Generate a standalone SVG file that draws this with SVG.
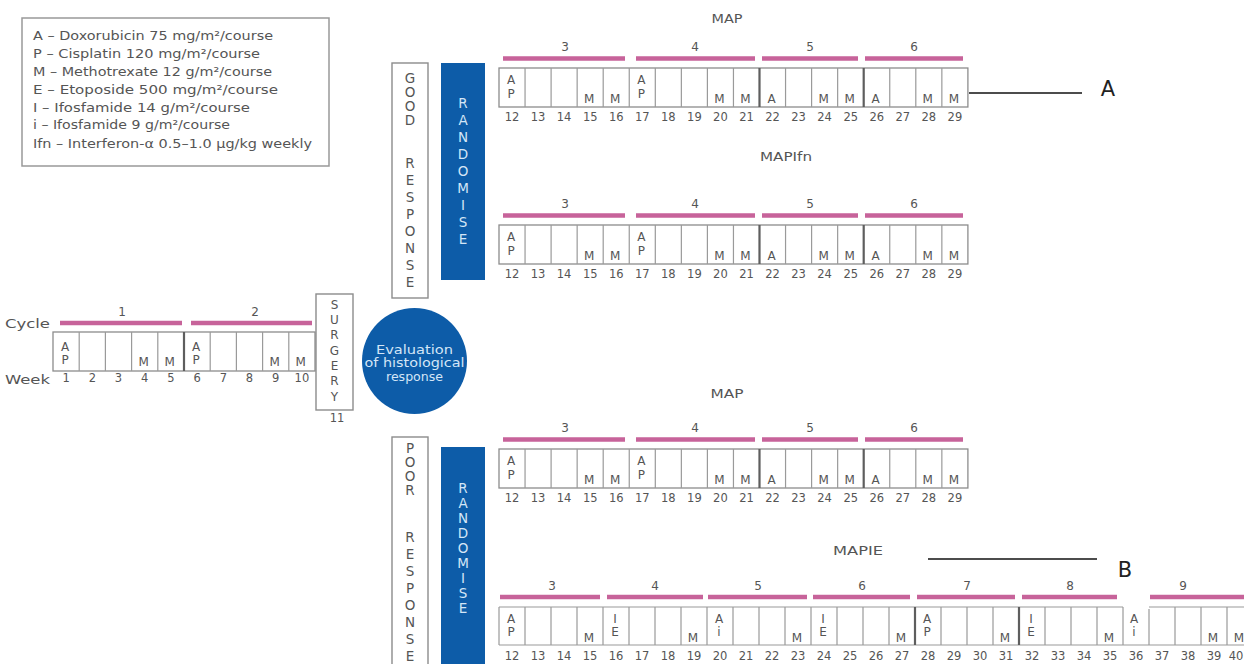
<svg xmlns="http://www.w3.org/2000/svg" xmlns:xlink="http://www.w3.org/1999/xlink" width="1244" height="664" viewBox="0 0 1244 664">
<style>
.t{font-family:"DejaVu Sans","Liberation Sans",sans-serif;fill:#555}
.wk{font-size:11.5px;text-anchor:middle}
.lt{font-size:12px;text-anchor:middle}
.vl{font-size:13.5px;text-anchor:middle;dominant-baseline:central}
.vs{font-size:12px;text-anchor:middle;dominant-baseline:central}
.cell{fill:#fff;stroke:#8c8c8c;stroke-width:1.3}
.div{fill:none;stroke:#9a9a9a;stroke-width:1.2}
.thick{fill:none;stroke:#5e5e5e;stroke-width:2.2}
.bar{stroke:#c7639a;stroke-width:4.5}
.box{fill:#fff;stroke:#8c8c8c;stroke-width:1.4}
.blue{fill:#0d5ca8}
.wt{fill:#d4e6f7}
.lead{stroke:#111;stroke-width:1.4}
.big{font-family:"DejaVu Sans","Liberation Sans",sans-serif;font-size:21px;fill:#222;text-anchor:middle}
</style>
<defs>
<g id="maprow">
<rect class="cell" x="499" y="0" width="468.9" height="39"/>
<path class="div" d="M525.05 0V39M551.1 0V39M577.15 0V39M603.2 0V39M629.25 0V39M655.3 0V39M681.35 0V39M707.4 0V39M733.45 0V39M785.55 0V39M811.6 0V39M837.65 0V39M889.75 0V39M915.8 0V39M941.85 0V39"/>
<path class="thick" d="M759.5 0V39M863.7 0V39"/>
<path class="bar" d="M503 -9.5H625M636 -9.5H755M762 -9.5H858M865 -9.5H963"/>
<g class="t lt">
<text x="565" y="-17">3</text><text x="695" y="-17">4</text><text x="810" y="-17">5</text><text x="914" y="-17">6</text>
<text x="511" y="16">A</text><text x="511" y="29.5">P</text>
<text x="589.2" y="34.5">M</text><text x="615.2" y="34.5">M</text>
<text x="641.3" y="16">A</text><text x="641.3" y="29.5">P</text>
<text x="719.4" y="34.5">M</text><text x="745.5" y="34.5">M</text>
<text x="771.5" y="34.5">A</text>
<text x="823.6" y="34.5">M</text><text x="849.7" y="34.5">M</text>
<text x="875.7" y="34.5">A</text>
<text x="927.8" y="34.5">M</text><text x="953.9" y="34.5">M</text>
</g>
<g class="t wk">
<text x="512" y="53">12</text><text x="538.1" y="53">13</text><text x="564.1" y="53">14</text><text x="590.2" y="53">15</text><text x="616.2" y="53">16</text><text x="642.3" y="53">17</text><text x="668.3" y="53">18</text><text x="694.4" y="53">19</text><text x="720.4" y="53">20</text><text x="746.5" y="53">21</text><text x="772.5" y="53">22</text><text x="798.6" y="53">23</text><text x="824.6" y="53">24</text><text x="850.7" y="53">25</text><text x="876.7" y="53">26</text><text x="902.8" y="53">27</text><text x="928.8" y="53">28</text><text x="954.9" y="53">29</text>
</g>
</g>
</defs>

<g id="legend">
<rect x="22" y="18" width="307" height="148" fill="#fff" stroke="#999" stroke-width="1.5"/>
<g class="t" font-size="12.5px" fill="#505050">
<text x="33" y="40" textLength="240" lengthAdjust="spacingAndGlyphs">A – Doxorubicin 75 mg/m²/course</text>
<text x="33" y="58" textLength="227" lengthAdjust="spacingAndGlyphs">P – Cisplatin 120 mg/m²/course</text>
<text x="33" y="76" textLength="239" lengthAdjust="spacingAndGlyphs">M – Methotrexate 12 g/m²/course</text>
<text x="33" y="94" textLength="245" lengthAdjust="spacingAndGlyphs">E – Etoposide 500 mg/m²/course</text>
<text x="33" y="112" textLength="217" lengthAdjust="spacingAndGlyphs">I – Ifosfamide 14 g/m²/course</text>
<text x="33" y="129" textLength="197" lengthAdjust="spacingAndGlyphs">i – Ifosfamide 9 g/m²/course</text>
<text x="33" y="148" textLength="279" lengthAdjust="spacingAndGlyphs">Ifn – Interferon-α 0.5–1.0 μg/kg weekly</text>
</g>
</g>

<g id="cycles-1-2">
<text class="t" x="5" y="328" font-size="13px" textLength="45" lengthAdjust="spacingAndGlyphs">Cycle</text>
<text class="t" x="5" y="384" font-size="12px" textLength="45" lengthAdjust="spacingAndGlyphs">Week</text>
<path class="bar" d="M60 323H182M191 323H312"/>
<g class="t lt"><text x="122" y="316">1</text><text x="255" y="316">2</text></g>
<rect class="cell" x="53" y="332" width="262" height="39"/>
<path class="div" d="M79.2 332V371M105.4 332V371M131.6 332V371M157.8 332V371M210.2 332V371M236.4 332V371M262.6 332V371M288.8 332V371"/>
<path class="thick" d="M184 332V371"/>
<g class="t lt">
<text x="65" y="351">A</text><text x="65" y="364">P</text>
<text x="143.6" y="366">M</text><text x="169.8" y="366">M</text>
<text x="196" y="351">A</text><text x="196" y="364">P</text>
<text x="274.6" y="366">M</text><text x="300.8" y="366">M</text>
</g>
<g class="t wk">
<text x="66.1" y="382">1</text><text x="92.3" y="382">2</text><text x="118.5" y="382">3</text><text x="144.7" y="382">4</text><text x="170.9" y="382">5</text><text x="197.1" y="382">6</text><text x="223.3" y="382">7</text><text x="249.5" y="382">8</text><text x="275.7" y="382">9</text><text x="301.9" y="382">10</text>
</g>
</g>

<g id="surgery">
<rect class="box" x="316" y="294" width="37" height="116"/>
<g class="t vs">
<text x="334.5" y="305">S</text><text x="334.5" y="320">U</text><text x="334.5" y="335">R</text><text x="334.5" y="351">G</text><text x="334.5" y="366">E</text><text x="334.5" y="381">R</text><text x="334.5" y="397">Y</text>
</g>
<text class="t wk" x="337" y="422">11</text>
</g>

<g id="evaluation">
<ellipse cx="414.5" cy="361" rx="52.5" ry="53" class="blue"/>
<g class="wt" font-family="DejaVu Sans, Liberation Sans, sans-serif" font-size="12px" text-anchor="middle">
<text x="414.5" y="354" textLength="77" lengthAdjust="spacingAndGlyphs">Evaluation</text>
<text x="414.5" y="367" textLength="100" lengthAdjust="spacingAndGlyphs">of histological</text>
<text x="414.5" y="381" textLength="57" lengthAdjust="spacingAndGlyphs">response</text>
</g>
</g>

<g id="good-response">
<rect class="box" x="392" y="63" width="36" height="235"/>
<g class="t vl">
<text x="410" y="78">G</text><text x="410" y="92">O</text><text x="410" y="106">O</text><text x="410" y="120">D</text>
<text x="410" y="163">R</text><text x="410" y="180">E</text><text x="410" y="197">S</text><text x="410" y="214">P</text><text x="410" y="231">O</text><text x="410" y="248">N</text><text x="410" y="265">S</text><text x="410" y="282">E</text>
</g>
</g>

<g id="randomise-good">
<rect class="blue" x="441" y="63" width="44" height="217"/>
<g class="wt vl" font-family="DejaVu Sans, Liberation Sans, sans-serif">
<text x="463" y="103">R</text><text x="463" y="120">A</text><text x="463" y="137">N</text><text x="463" y="154">D</text><text x="463" y="171">O</text><text x="463" y="188">M</text><text x="463" y="205">I</text><text x="463" y="222">S</text><text x="463" y="239">E</text>
</g>
</g>

<g id="poor-response">
<rect class="box" x="392" y="437" width="36" height="240"/>
<g class="t vl">
<text x="410" y="448">P</text><text x="410" y="462">O</text><text x="410" y="476">O</text><text x="410" y="490">R</text>
<text x="410" y="537">R</text><text x="410" y="554">E</text><text x="410" y="571">S</text><text x="410" y="588">P</text><text x="410" y="605">O</text><text x="410" y="622">N</text><text x="410" y="639">S</text><text x="410" y="656">E</text>
</g>
</g>

<g id="randomise-poor">
<rect class="blue" x="441" y="447" width="44" height="230"/>
<g class="wt vl" font-family="DejaVu Sans, Liberation Sans, sans-serif">
<text x="463" y="488">R</text><text x="463" y="503">A</text><text x="463" y="518">N</text><text x="463" y="533">D</text><text x="463" y="548">O</text><text x="463" y="563">M</text><text x="463" y="578">I</text><text x="463" y="593">S</text><text x="463" y="608">E</text>
</g>
</g>

<g id="map-good">
<text class="t" x="727" y="23" font-size="12px" text-anchor="middle" textLength="31" lengthAdjust="spacingAndGlyphs">MAP</text>
<use xlink:href="#maprow" href="#maprow" transform="translate(0,68)"/>
</g>

<g id="mapifn-good">
<text class="t" x="786" y="161" font-size="12px" text-anchor="middle" textLength="52" lengthAdjust="spacingAndGlyphs">MAPIfn</text>
<use xlink:href="#maprow" href="#maprow" transform="translate(0,225)"/>
</g>

<g id="map-poor">
<text class="t" x="727" y="398" font-size="12px" text-anchor="middle" textLength="33" lengthAdjust="spacingAndGlyphs">MAP</text>
<use xlink:href="#maprow" href="#maprow" transform="translate(0,449)"/>
</g>

<g id="mapie-poor">
<text class="t" x="858" y="555" font-size="12px" text-anchor="middle" textLength="50" lengthAdjust="spacingAndGlyphs">MAPIE</text>
<path class="bar" d="M500 597H600M607 597H703M708 597H807M813 597H910M917 597H1015M1022 597H1117M1150 597H1250"/>
<g class="t lt">
<text x="552" y="590">3</text><text x="655" y="590">4</text><text x="758" y="590">5</text><text x="862" y="590">6</text><text x="967" y="590">7</text><text x="1070" y="590">8</text><text x="1183" y="590">9</text>
</g>
<rect x="499" y="607" width="754" height="38" fill="#fff"/>
<path class="div" stroke="#8c8c8c" d="M499 607H1123M1149 607H1253M499 645H1253M499 607V645"/>
<path class="div" d="M525 607V645M551 607V645M577 607V645M603 607V645M629 607V645M655 607V645M681 607V645M707 607V645M733 607V645M759 607V645M785 607V645M811 607V645M837 607V645M863 607V645M889 607V645M941 607V645M967 607V645M993 607V645M1045 607V645M1071 607V645M1097 607V645M1123 607V645M1149 609V645M1175 607V645M1201 607V645M1227 607V645"/>
<path class="thick" d="M915 607V645M1019 607V645"/>
<g class="t lt">
<text x="511" y="622.5">A</text><text x="511" y="635.5">P</text>
<text x="589" y="641.5">M</text>
<text x="615" y="622.5">I</text><text x="615" y="635.5">E</text>
<text x="693" y="641.5">M</text>
<text x="719" y="622.5">A</text><text x="719" y="635.5">i</text>
<text x="797" y="641.5">M</text>
<text x="823" y="622.5">I</text><text x="823" y="635.5">E</text>
<text x="901" y="641.5">M</text>
<text x="927" y="622.5">A</text><text x="927" y="635.5">P</text>
<text x="1005" y="641.5">M</text>
<text x="1031" y="622.5">I</text><text x="1031" y="635.5">E</text>
<text x="1109" y="641.5">M</text>
<text x="1134" y="622.5">A</text><text x="1134" y="635.5">i</text>
<text x="1213" y="641.5">M</text><text x="1239" y="641.5">M</text>
</g>
<g class="t wk">
<text x="512" y="660">12</text><text x="538" y="660">13</text><text x="564" y="660">14</text><text x="590" y="660">15</text><text x="616" y="660">16</text><text x="642" y="660">17</text><text x="668" y="660">18</text><text x="694" y="660">19</text><text x="720" y="660">20</text><text x="746" y="660">21</text><text x="772" y="660">22</text><text x="798" y="660">23</text><text x="824" y="660">24</text><text x="850" y="660">25</text><text x="876" y="660">26</text><text x="902" y="660">27</text><text x="928" y="660">28</text><text x="954" y="660">29</text><text x="980" y="660">30</text><text x="1006" y="660">31</text><text x="1032" y="660">32</text><text x="1058" y="660">33</text><text x="1084" y="660">34</text><text x="1110" y="660">35</text><text x="1136" y="660">36</text><text x="1162" y="660">37</text><text x="1188" y="660">38</text><text x="1214" y="660">39</text><text x="1236" y="660">40</text>
</g>
</g>

<g id="connectors">
<line class="lead" x1="969" y1="93" x2="1082" y2="93"/>
<line class="lead" x1="928" y1="559" x2="1097" y2="559"/>
</g>

<g id="label-A"><text class="big" x="1108" y="96">A</text></g>
<g id="label-B"><text class="big" x="1125" y="577">B</text></g>
</svg>
